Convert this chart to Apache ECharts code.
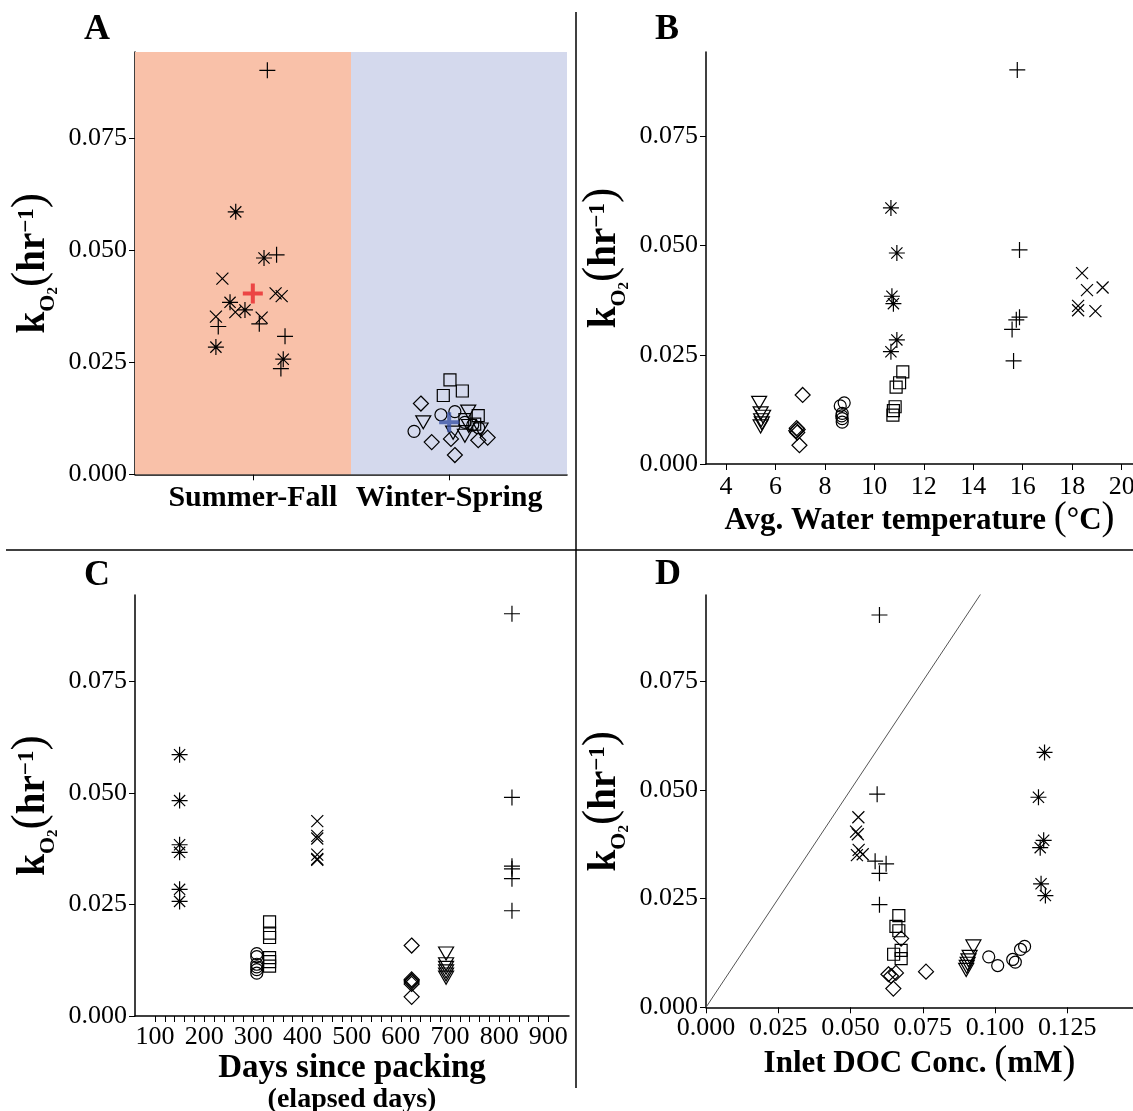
<!DOCTYPE html>
<html><head><meta charset="utf-8">
<script src="https://cdn.jsdelivr.net/npm/echarts@6/dist/echarts.min.js"></script>
<style>html,body{margin:0;padding:0;background:#fff}#c{width:1133px;height:1111px}</style>
</head><body><div id="c"></div>
<script>
// ---------------- DATA ----------------
// kO2 values (hr^-1) for each marker group (same samples in all four panels)
const kAsterisk = [0.0586, 0.0483, 0.0384, 0.0367, 0.0284, 0.0257];
const kPlus     = [0.0902, 0.0490, 0.0336, 0.0330, 0.0308, 0.0236];
const kCross    = [0.0437, 0.0404, 0.0398, 0.0362, 0.0352, 0.0350];
const kSquare   = [0.0211, 0.0186, 0.0176, 0.0131, 0.0122, 0.0112];
const kCircle   = [0.0140, 0.0133, 0.0116, 0.0110, 0.0104, 0.0096];
const kDiamond  = [0.0158, 0.0082, 0.0079, 0.0076, 0.0072, 0.0043];
const kTriangle = [0.0140, 0.0116, 0.0108, 0.0100, 0.0093, 0.0086];

// Panel A: jittered season position (1 = Summer-Fall, 2 = Winter-Spring)
const seasonAsterisk = [0.913, 1.057, 0.884, 0.960, 0.812, 1.155];
const seasonPlus     = [1.074, 1.121, 1.033, 0.824, 1.164, 1.143];
const seasonCross    = [0.845, 1.116, 1.147, 0.911, 0.812, 1.045];
const seasonSquare   = [2.004, 2.067, 1.970, 2.148, 2.080, 2.130];
const seasonCircle   = [2.029, 1.958, 2.080, 2.120, 2.150, 1.821];
const seasonDiamond  = [1.856, 2.196, 2.009, 2.148, 1.911, 2.029];
const seasonTriangle = [2.097, 1.868, 2.100, 2.160, 2.020, 2.080];
const seasonLabels = ['Summer-Fall', 'Winter-Spring'];
const seasonPos = [1, 2];
const meanSeason = [1, 2];
const meanK = [0.0404, 0.0116];

// Panel B: average water temperature (°C)
const tempAsterisk = [10.67, 10.91, 10.71, 10.77, 10.91, 10.67];
const tempPlus     = [15.78, 15.87, 15.87, 15.74, 15.57, 15.63];
const tempCross    = [18.40, 19.23, 18.60, 18.24, 18.24, 18.94];
const tempSquare   = [11.15, 11.02, 10.88, 10.84, 10.77, 10.75];
const tempCircle   = [8.78, 8.62, 8.70, 8.68, 8.70, 8.70];
const tempDiamond  = [7.10, 6.86, 6.90, 6.84, 6.88, 6.97];
const tempTriangle = [5.34, 5.40, 5.50, 5.42, 5.45, 5.40];

// Panel C: days since packing
const daysAsterisk = [150, 150, 150, 150, 150, 150];
const daysPlus     = [826, 826, 826, 826, 826, 826];
const daysCross    = [430, 430, 430, 430, 430, 430];
const daysSquare   = [333, 333, 333, 333, 333, 333];
const daysCircle   = [307, 307, 307, 307, 307, 307];
const daysDiamond  = [622, 622, 622, 622, 622, 622];
const daysTriangle = [692, 692, 692, 692, 692, 692];

// Panel D: inlet DOC concentration (mM)
const docAsterisk = [0.1171, 0.1150, 0.1168, 0.1156, 0.1159, 0.1174];
const docPlus     = [0.0600, 0.0592, 0.0585, 0.0623, 0.0600, 0.0600];
const docCross    = [0.0527, 0.0519, 0.0525, 0.0528, 0.0542, 0.0522];
const docSquare   = [0.0667, 0.0657, 0.0667, 0.0675, 0.0649, 0.0675];
const docCircle   = [0.1102, 0.1088, 0.0978, 0.1061, 0.1070, 0.1009];
const docDiamond  = [0.0675, 0.0761, 0.0657, 0.0631, 0.0640, 0.0648];
const docTriangle = [0.0925, 0.0912, 0.0908, 0.0905, 0.0902, 0.0900];
const oneToOneDoc = [0, 0.15];
const oneToOneK   = [0, 0.15];

// Tick values
const kTicks = [0, 0.025, 0.05, 0.075];
const tempTicks = [4, 6, 8, 10, 12, 14, 16, 18, 20];
const dayTicks = [100,120,140,160,180,200,220,240,260,280,300,320,340,360,380,400,420,440,460,480,500,
  520,540,560,580,600,620,640,660,680,700,720,740,760,780,800,820,840,860,880,900];
const dayLabels = [100, 200, 300, 400, 500, 600, 700, 800, 900];
const docTicks = [0, 0.025, 0.05, 0.075, 0.1, 0.125];

// ---------------- STYLE / BUILD ----------------
const SERIF = "'Liberation Serif', 'Times New Roman', serif";
const SYM = {
  asterisk: {symbol: 'path://M5,0L5,10M0,5L10,5M1.5,1.5L8.5,8.5M1.5,8.5L8.5,1.5', size: 16},
  plus: {symbol: 'path://M5,0L5,10M0,5L10,5', size: 16},
  cross: {symbol: 'path://M0,0L10,10M0,10L10,0', size: 12},
  square: {symbol: 'rect', size: 12},
  circle: {symbol: 'circle', size: 12},
  diamond: {symbol: 'diamond', size: 15},
  triangle: {symbol: 'triangle', size: [15, 13], rotate: 180}
};
const groups = [
  {sym: 'asterisk', k: kAsterisk, x: [seasonAsterisk, tempAsterisk, daysAsterisk, docAsterisk]},
  {sym: 'plus',     k: kPlus,     x: [seasonPlus, tempPlus, daysPlus, docPlus]},
  {sym: 'cross',    k: kCross,    x: [seasonCross, tempCross, daysCross, docCross]},
  {sym: 'square',   k: kSquare,   x: [seasonSquare, tempSquare, daysSquare, docSquare]},
  {sym: 'circle',   k: kCircle,   x: [seasonCircle, tempCircle, daysCircle, docCircle]},
  {sym: 'diamond',  k: kDiamond,  x: [seasonDiamond, tempDiamond, daysDiamond, docDiamond]},
  {sym: 'triangle', k: kTriangle, x: [seasonTriangle, tempTriangle, daysTriangle, docTriangle]}
];

const series = [];
// background bands for panel A
series.push({
  type: 'line', xAxisIndex: 0, yAxisIndex: 0, data: [], z: 0, silent: true,
  markArea: {silent: true, data: [
    [{xAxis: 0.4, itemStyle: {color: '#f9c1a9'}}, {xAxis: 1.5}],
    [{xAxis: 1.5, itemStyle: {color: '#d4d9ed'}}, {xAxis: 2.6}]
  ]}
});
for (let p = 0; p < 4; p++) {
  groups.forEach(g => {
    const s = SYM[g.sym];
    series.push({
      type: 'scatter', xAxisIndex: p, yAxisIndex: p, z: 3, silent: true,
      symbol: s.symbol, symbolSize: s.size, symbolRotate: s.rotate || 0,
      itemStyle: {color: 'rgba(0,0,0,0)', borderColor: '#000', borderWidth: 1.2, opacity: 1},
      data: g.x[p].map((v, i) => [v, g.k[i]])
    });
  });
}
// season means in panel A
['#e8262b', '#3953a5'].forEach((c, i) => {
  series.push({
    type: 'scatter', xAxisIndex: 0, yAxisIndex: 0, z: 5, silent: true,
    symbol: SYM.plus.symbol, symbolSize: 20,
    itemStyle: {color: 'rgba(0,0,0,0)', borderColor: c, borderWidth: 4},
    data: [[meanSeason[i], meanK[i]]]
  });
});
// 1:1 line in panel D
series.push({
  type: 'line', xAxisIndex: 3, yAxisIndex: 3, z: 2, silent: true, clip: true,
  showSymbol: false, symbol: 'none',
  lineStyle: {color: '#555', width: 1},
  data: oneToOneDoc.map((v, i) => [v, oneToOneK[i]])
});

const baseLabel = {fontFamily: SERIF, fontSize: 26, color: '#000', margin: 8};
function axisCommon(gi, min, max, ticks, labels, fmt, tickLen) {
  return {
    type: 'value', gridIndex: gi, min: min, max: max,
    axisLine: {show: true, onZero: false, lineStyle: {color: '#000', width: 1.5}},
    axisTick: {show: true, inside: false, length: tickLen || 6, customValues: ticks, lineStyle: {color: '#000', width: 1}},
    axisLabel: Object.assign({}, baseLabel, {customValues: labels, formatter: fmt}),
    splitLine: {show: false}, minorTick: {show: false},
    nameMoveOverlap: false
  };
}
const f3 = v => v.toFixed(3);
const yRich = {
  k:  {fontFamily: SERIF, fontSize: 39, fontWeight: 'bold', lineHeight: 54, verticalAlign: 'middle', color: '#000'},
  o:  {fontFamily: SERIF, fontSize: 22, fontWeight: 'bold', lineHeight: 54, verticalAlign: 'middle', color: '#000', padding: [28, 0, 0, 0]},
  t:  {fontFamily: SERIF, fontSize: 15, fontWeight: 'bold', lineHeight: 54, verticalAlign: 'middle', color: '#000', padding: [38, 0, 0, 0]},
  p:  {fontFamily: SERIF, fontSize: 46, fontWeight: 'normal', lineHeight: 54, verticalAlign: 'middle', color: '#000', padding: [0, 0, 6, 0]},
  h:  {fontFamily: SERIF, fontSize: 39, fontWeight: 'bold', lineHeight: 54, verticalAlign: 'middle', color: '#000'},
  s:  {fontFamily: SERIF, fontSize: 23, fontWeight: 'bold', lineHeight: 54, verticalAlign: 'middle', color: '#000', padding: [0, 0, 13, 0]}
};
const yName = '{k|k}{o|O}{t|2}{p|(}{h|hr}{s|\u22121}{p|)}';
function yAxis(gi, max) {
  return Object.assign(axisCommon(gi, 0, max, kTicks, kTicks, f3, 6), {
    name: yName, nameLocation: 'middle', nameRotate: 90, nameGap: 74,
    nameTextStyle: {rich: yRich}
  });
}
const xRich = {
  t: {fontFamily: SERIF, fontSize: 31, fontWeight: 'bold', lineHeight: 40, color: '#000', verticalAlign: 'middle'},
  p: {fontFamily: SERIF, fontSize: 39, fontWeight: 'normal', lineHeight: 40, color: '#000', verticalAlign: 'middle', padding: [0, 0, 4, 0]},
  a: {fontFamily: SERIF, fontSize: 33, fontWeight: 'bold', lineHeight: 34, color: '#000', verticalAlign: 'middle'},
  b: {fontFamily: SERIF, fontSize: 28, fontWeight: 'bold', lineHeight: 30, color: '#000', verticalAlign: 'middle'}
};

const xAxes = [
  Object.assign(axisCommon(0, 0.4, 2.6, seasonPos, seasonPos, v => seasonLabels[seasonPos.indexOf(v)], 6), {
    axisLabel: Object.assign({}, baseLabel, {customValues: seasonPos, fontSize: 30, fontWeight: 'bold', margin: 9,
      formatter: v => seasonLabels[seasonPos.indexOf(v)]})
  }),
  Object.assign(axisCommon(1, 3.191, 20.46, tempTicks, tempTicks, v => String(v), 6), {
    name: '{t|Avg. Water temperature }{p|(}{t|\u00b0C}{p|)}', nameLocation: 'middle', nameGap: 37,
    nameTextStyle: {rich: xRich}
  }),
  Object.assign(axisCommon(2, 59.3, 942, dayTicks, dayLabels, v => String(v), 6), {
    name: '{a|Days since packing}\n{b|(elapsed days)}', nameLocation: 'middle', nameGap: 35,
    nameTextStyle: {rich: xRich}
  }),
  Object.assign(axisCommon(3, 0, 0.1477, docTicks, docTicks, f3, 6), {
    name: '{t|Inlet DOC Conc. }{p|(}{t|mM}{p|)}', nameLocation: 'middle', nameGap: 37,
    nameTextStyle: {rich: xRich}
  })
];
xAxes[1].axisLabel.margin = 10;
const yAxes = [yAxis(0, 0.0943), yAxis(1, 0.0943), yAxis(2, 0.0944), yAxis(3, 0.0948)];

const letter = (t, x, y) => ({type: 'text', x: x, y: y, silent: true,
  style: {text: t, fontSize: 36, fontWeight: 'bold', fontFamily: SERIF, fill: '#000',
    align: 'center', verticalAlign: 'middle', textAlign: 'center', textVerticalAlign: 'middle'}});

const option = {
  animation: false,
  backgroundColor: '#fff',
  grid: [
    {left: 135, top: 52, width: 432, height: 422.3, containLabel: false, outerBoundsMode: 'none'},
    {left: 706, top: 52, width: 427, height: 412, containLabel: false, outerBoundsMode: 'none'},
    {left: 135, top: 595, width: 434, height: 421, containLabel: false, outerBoundsMode: 'none'},
    {left: 706, top: 595, width: 427, height: 412.3, containLabel: false, outerBoundsMode: 'none'}
  ],
  xAxis: xAxes,
  yAxis: yAxes,
  series: series,
  graphic: [
    {type: 'line', silent: true, shape: {x1: 576, y1: 12, x2: 576, y2: 1088}, style: {stroke: '#000', lineWidth: 1.5}},
    {type: 'line', silent: true, shape: {x1: 6, y1: 550, x2: 1133, y2: 550}, style: {stroke: '#000', lineWidth: 1.5}},
    letter('A', 97, 30), letter('B', 667, 30), letter('C', 97, 576), letter('D', 668, 575)
  ]
};
const chart = echarts.init(document.getElementById('c'), null, {renderer: 'canvas'});
chart.setOption(option);
</script>
</body></html>
